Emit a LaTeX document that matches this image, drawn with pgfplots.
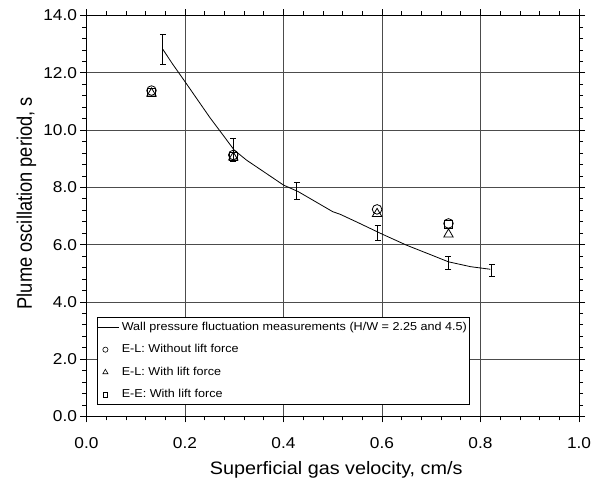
\documentclass[border=0pt]{standalone}
\usepackage{pgfplots}
\pgfplotsset{compat=1.18}
\usepackage{fontspec}
\setmainfont{Liberation Sans}
\newfontfamily\hfont[FakeStretch=1.1]{Liberation Sans}
\newfontfamily\vfont[FakeStretch=0.87]{Liberation Sans}

\pgfplotstableread{
x y
0.155 12.82
0.175 12.30
0.200 11.69
0.250 10.45
0.300 9.30
0.325 8.95
0.350 8.66
0.400 8.08
0.430 7.85
0.500 7.15
0.515 7.06
0.550 6.78
0.600 6.37
0.650 5.98
0.700 5.64
0.735 5.40
0.780 5.23
0.820 5.14
}\curvedata

\pgfplotstableread{
x y e
0.155 12.82 0.51
0.298 9.30 0.41
0.427 7.87 0.30
0.591 6.40 0.26
0.735 5.37 0.22
0.823 5.11 0.21
}\errdata

\pgfplotstableread{
x y
0.132 11.38
0.298 9.13
0.590 7.23
0.735 6.74
}\circdata

\pgfplotstableread{
x y
0.132 11.28
0.298 9.05
0.590 7.08
0.735 6.36
}\tridata

\pgfplotstableread{
x y
0.132 11.30
0.298 9.07
0.735 6.70
}\sqdata

\begin{document}
\begin{tikzpicture}[x=1pt,y=1pt]
\path[use as bounding box] (-86.5,-61.5) rectangle (507.5,416.5);
\begin{axis}[
  at={(0,0)}, anchor=south west, scale only axis,
  width=492.5pt, height=401pt,
  xmin=0, xmax=1, ymin=0, ymax=14,
  xtick={0,0.2,0.4,0.6,0.8,1.0}, ytick={0,2,4,6,8,10,12,14},
  minor x tick num=4, minor y tick num=4,
  tick align=outside, major tick length=6pt, minor tick length=4pt,
  tick style={black, line width=0.7pt},
  axis line style={black, line width=0.8pt},
  grid=major, major grid style={black!70, line width=0.7pt},
  /pgf/number format/assume math mode=true,
  ticklabel style={font=\hfont\fontsize{15.7}{16}\selectfont},
  xticklabel style={yshift=-12pt, /pgf/number format/.cd, fixed, fixed zerofill, precision=1},
  yticklabel style={/pgf/number format/.cd, fixed, fixed zerofill, precision=1},
  xlabel={Superficial gas velocity, cm/s},
  ylabel={Plume oscillation period, s},
  xlabel style={font=\hfont\fontsize{18}{18}\selectfont,
    at={(axis description cs:0.507,0)}, anchor=base, yshift=-57.8pt},
  ylabel style={font=\vfont\fontsize{21}{21}\selectfont,
    at={(axis description cs:-0.111,0.532)}, anchor=base},
  legend style={at={(0.0207,0.030)}, anchor=south west,
    font=\hfont\fontsize{11.45}{14}\selectfont, draw=black, line width=0.6pt,
    inner xsep=1pt, inner ysep=0pt, row sep=4pt,
    nodes={inner ysep=3.3pt, text height=9pt, text depth=3pt}},
  legend cell align=left,
]
\addplot[black, line width=0.8pt, mark=none,
  legend image code/.code={\draw[line width=0.8pt] (0pt,0pt) -- (21pt,0pt);}]
  table[x=x,y=y] {\curvedata};
\addlegendentry{Wall pressure fluctuation measurements (H/W = 2.25 and 4.5)}
\addplot[draw=none, mark=none, forget plot,
  error bars/.cd, y dir=both, y explicit,
  error bar style={black, line width=0.8pt},
  error mark options={rotate=90, mark size=3pt, line width=0.8pt}]
  table[x=x,y=y,y error=e] {\errdata};
\addplot[only marks, mark=square, mark size=4.0pt, line width=0.8pt, black,
  forget plot] table[x=x,y=y] {\sqdata};
\addplot[only marks, mark=o, mark size=4.8pt, line width=0.8pt, black,
  legend image code/.code={\draw[line width=0.6pt] plot[mark=o, mark size=2.6pt] coordinates {(7pt,0pt)};}]
  table[x=x,y=y] {\circdata};
\addlegendentry{E-L: Without lift force}
\addplot[only marks, mark=triangle, mark size=5.4pt, line width=0.8pt, black,
  legend image code/.code={\draw[line width=0.6pt] plot[mark=triangle, mark size=3pt] coordinates {(7pt,0pt)};}]
  table[x=x,y=y] {\tridata};
\addlegendentry{E-L: With lift force}
\addlegendimage{only marks, mark=square, black,
  legend image code/.code={\draw[line width=0.6pt] plot[mark=square, mark size=2.4pt] coordinates {(7pt,0pt)};}}
\addlegendentry{E-E: With lift force}
\end{axis}
\end{tikzpicture}
\end{document}
